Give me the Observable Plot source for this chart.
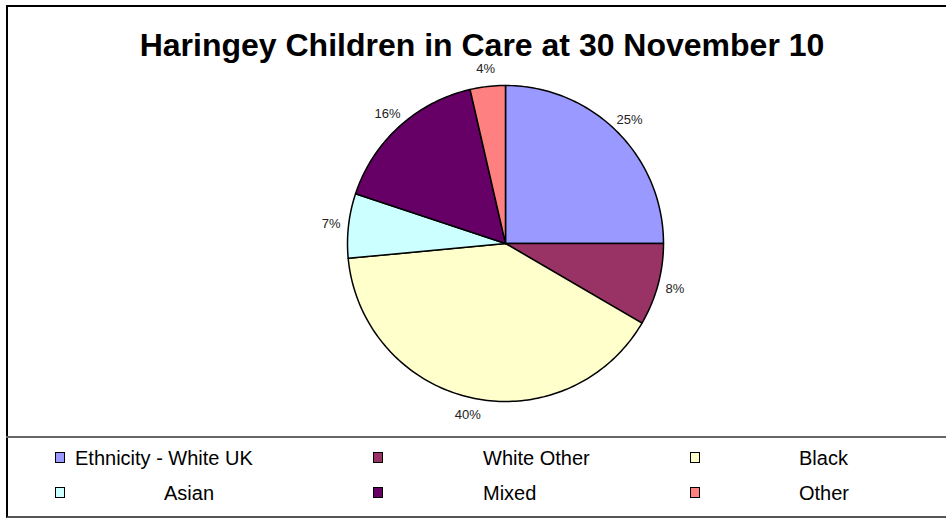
<!DOCTYPE html>
<html>
<head>
<meta charset="utf-8">
<script src="https://cdn.jsdelivr.net/npm/d3@7"></script>
<script src="https://cdn.jsdelivr.net/npm/@observablehq/plot@0.6"></script>
<style>
  html, body { margin: 0; padding: 0; background: #fff; }
  body { width: 946px; height: 519px; overflow: hidden; font-family: "Liberation Sans", Arial, sans-serif; }
  #wrap { position: relative; width: 946px; height: 519px; }
  #frame { position: absolute; left: 6px; top: 5px; width: 950px; height: 509px;
           border-left: 2px solid #000; border-top: 2px solid #000; border-bottom: 2px solid #555; }
  #sep { position: absolute; left: 6px; top: 436px; width: 950px; height: 0; border-top: 2px solid #666; }
  #title { position: absolute; left: 0; width: 964px; top: 27px; text-align: center;
           font-weight: bold; font-size: 32px; line-height: 36px; color: #000; white-space: nowrap; }
  #chart { position: absolute; left: 0; top: 62px; }
  #chart svg { overflow: visible; }
  .lg { position: absolute; font-size: 20px; line-height: 22px; color: #000; white-space: nowrap; }
  .sw { position: absolute; width: 8px; height: 9px; border: 1.5px solid #000; }
</style>
</head>
<body>
<div id="wrap">
  <div id="frame"></div>
  <div id="sep"></div>
  <div id="title">Haringey Children in Care at 30 November 10</div>
  <div id="chart"></div>
  <div id="legend"></div>
</div>
<script>
const categories = ["Ethnicity - White UK", "White Other", "Black", "Asian", "Mixed", "Other"];
const values = [25.0, 8.4, 40.1, 6.6, 16.3, 3.6];
const percentLabels = ["25%", "8%", "40%", "7%", "16%", "4%"];
const colors = ["#9999FF", "#993366", "#FFFFCC", "#CCFFFF", "#660066", "#FF8080"];

const data = categories.map((name, i) => ({name, value: values[i], label: percentLabels[i]}));
const arcs = d3.pie().sort(null).value(d => d.value)(data);

// polygon vertices of each slice, in unit-circle coordinates (y up)
const pts = [];
arcs.forEach(a => {
  const n = Math.max(8, Math.ceil((a.endAngle - a.startAngle) / 0.02));
  pts.push({name: a.data.name, x: 0, y: 0});
  for (let k = 0; k <= n; k++) {
    const t = a.startAngle + (a.endAngle - a.startAngle) * k / n;
    pts.push({name: a.data.name, x: Math.sin(t), y: Math.cos(t)});
  }
  pts.push({name: a.data.name, x: 0, y: 0});
});
const labelR = 1.11;
const labelPts = arcs.map(a => {
  const m = (a.startAngle + a.endAngle) / 2;
  return {text: a.data.label, x: labelR * Math.sin(m), y: labelR * Math.cos(m)};
});

const cx = 505, cy = 181, R = 158;
const chart = Plot.plot({
  width: 946,
  height: 372,
  margin: 0,
  style: {background: "transparent", fontFamily: "Liberation Sans, Arial, sans-serif"},
  x: {domain: [-1, 1], range: [cx - R, cx + R], axis: null},
  y: {domain: [-1, 1], range: [cy + R, cy - R], axis: null},
  color: {domain: categories, range: colors},
  marks: [
    Plot.line(pts, {x: "x", y: "y", z: "name", fill: "name", stroke: "#000", strokeWidth: 1.5, strokeLinejoin: "round"}),
    Plot.text(labelPts, {x: "x", y: "y", text: "text", fontSize: 13, fill: "#222"})
  ]
});
document.getElementById("chart").appendChild(chart);

// legend
const legendPos = [
  {sx: 55, tx: 75, cy: 458},
  {sx: 373, tx: 483, cy: 458},
  {sx: 690, tx: 799, cy: 458},
  {sx: 55, tx: 164, cy: 493},
  {sx: 373, tx: 483, cy: 493},
  {sx: 690, tx: 799, cy: 493}
];
const lg = document.getElementById("legend");
categories.forEach((c, i) => {
  const p = legendPos[i];
  const s = document.createElement("div");
  s.className = "sw";
  s.style.left = p.sx + "px";
  s.style.top = (p.cy - 6) + "px";
  s.style.background = colors[i];
  lg.appendChild(s);
  const t = document.createElement("div");
  t.className = "lg";
  t.style.left = p.tx + "px";
  t.style.top = (p.cy - 11) + "px";
  t.textContent = c;
  lg.appendChild(t);
});
</script>
</body>
</html>
